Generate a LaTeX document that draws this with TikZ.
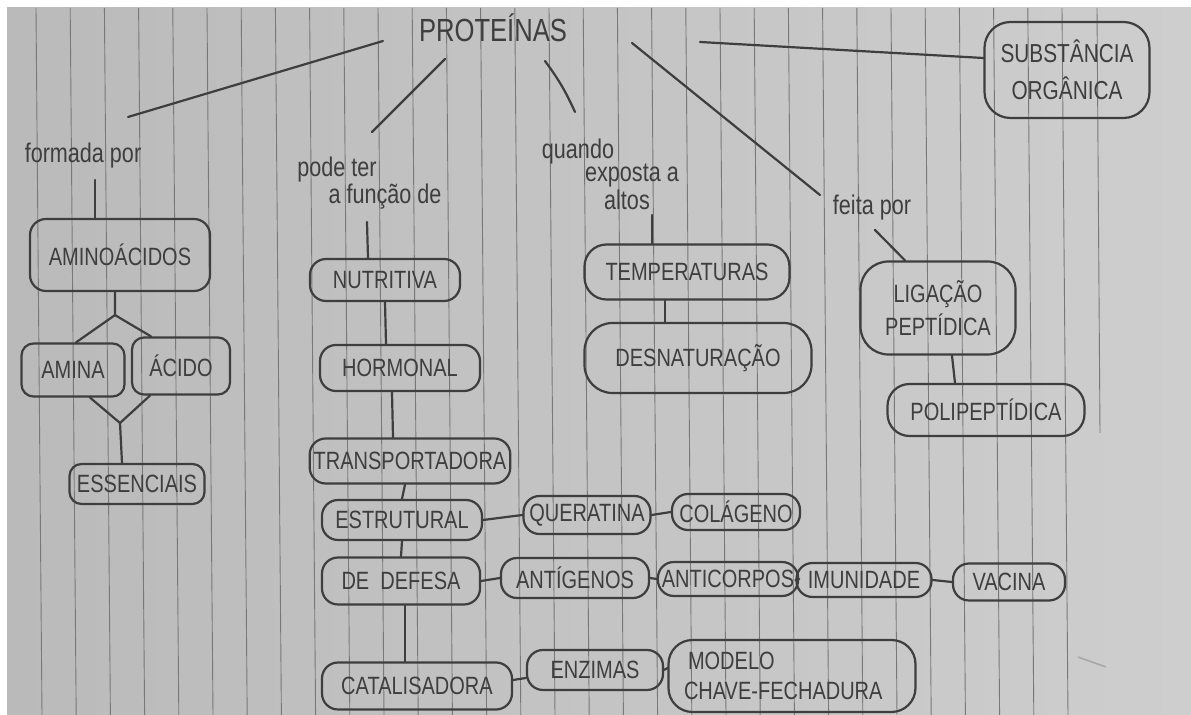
\documentclass[tikz,border=0pt]{standalone}
\usepackage{fontspec}
\setmainfont{Liberation Sans}
\newfontfamily\hand[FakeStretch=0.8]{Liberation Sans}
\usetikzlibrary{calc}

\definecolor{ink}{RGB}{62,62,62}
\definecolor{rule}{RGB}{120,120,120}
\definecolor{paperA}{RGB}{186,186,186}
\definecolor{paperB}{RGB}{206,206,206}

\begin{document}
\begin{tikzpicture}[x=0.5pt,y=-0.5pt,
  box/.style={draw=ink, line width=1.1pt, rounded corners=8pt, text=ink,
              font=\hand\fontsize{12.5}{15}\selectfont, inner sep=2pt, align=center},
  lbl/.style={text=ink, font=\hand\fontsize{13.5}{14}\selectfont, inner sep=1pt},
  link/.style={draw=ink, line width=1.1pt, line cap=round},
  ruling/.style={draw=rule, line width=0.45pt}]

% sheet of ruled paper
\useasboundingbox (0,0) rectangle (1191,715);
\fill[white] (0,0) rectangle (1191,715);
\shade[left color=paperA, right color=paperB] (7,8) rectangle (1191,715);
\foreach \i in {0,...,30}{
  \draw[ruling] ({36+34.2*\i},8) -- ({42+34.2*\i},715);
}
\draw[ruling] (1097,8) -- (1100,433);

% central concept
\node[lbl, font=\hand\fontsize{16}{17}\selectfont] (prot) at (493,28) {PROTEÍNAS};

% right: substance
\node[box, rounded corners=13pt, minimum width=82.5pt, minimum height=48pt,
      font=\hand\fontsize{13}{18.5}\selectfont] (subst) at (1067,70) {SUBSTÂNCIA\\ORGÂNICA};

% left branch: amino acids
\node[lbl] (formada) at (83,156) {formada por};
\node[box, minimum width=90pt, minimum height=36pt] (amino) at (120,255) {AMINOÁCIDOS};
\node[box, minimum width=51.5pt, minimum height=26.5pt, rounded corners=6pt] (amina) at (73,370) {AMINA};
\node[box, minimum width=49pt, minimum height=28.5pt, rounded corners=6pt] (acido) at (181,366) {ÁCIDO};
\node[box, minimum width=67.5pt, minimum height=20pt, rounded corners=6pt] (essen) at (137,484) {ESSENCIAIS};

% functions
\node[lbl] (pode1) at (337,170) {pode ter};
\node[lbl] (pode2) at (385,197) {a função de};
\node[box, minimum width=75pt, minimum height=21pt] (nutri) at (385,280) {NUTRITIVA};
\node[box, minimum width=80pt, minimum height=23pt] (hormo) at (400,368) {HORMONAL};
\node[box, minimum width=90pt, minimum height=22.5pt] (transp) at (410,461) {TRANSPORTADORA};
\node[box, minimum width=80pt, minimum height=20pt] (estru) at (402,520) {ESTRUTURAL};
\node[box, minimum width=63.5pt, minimum height=19pt] (quera) at (587,515) {QUERATINA};
\node[box, minimum width=64pt, minimum height=18pt] (colag) at (736,512) {COLÁGENO};
\node[box, minimum width=79pt, minimum height=23.5pt] (defesa) at (401,581) {DE \ DEFESA};
\node[box, minimum width=74pt, minimum height=20pt] (antig) at (575,578) {ANTÍGENOS};
\node[box, minimum width=68pt, minimum height=17pt] (antic) at (728,579) {ANTICORPOS};
\node[box, minimum width=67.5pt, minimum height=17pt] (imuni) at (864,580) {IMUNIDADE};
\node[box, minimum width=56pt, minimum height=18.5pt] (vacina) at (1009,582) {VACINA};
\node[box, minimum width=95pt, minimum height=23.5pt] (catal) at (417,686) {CATALISADORA};
\node[box, minimum width=68pt, minimum height=20pt] (enzim) at (595,670) {ENZIMAS};
\node[box, minimum width=123.5pt, minimum height=36pt, rounded corners=12pt,
      align=left, text width=108pt] (modelo) at (792,676) {\hspace{2pt}MODELO\\CHAVE-FECHADURA};

% temperature
\node[lbl] (quando1) at (578,152) {quando};
\node[lbl] (quando2) at (632,176) {exposta a};
\node[lbl] (quando3) at (627,200) {altos};
\node[box, minimum width=102.5pt, minimum height=27.5pt, rounded corners=11pt] (temp) at (687,272) {TEMPERATURAS};
\node[box, minimum width=113.5pt, minimum height=35pt, rounded corners=14pt] (desna) at (698,358) {DESNATURAÇÃO};

% peptide bond
\node[lbl] (feita) at (872,208) {feita por};
\node[box, minimum width=77.5pt, minimum height=46.5pt, rounded corners=14pt,
      font=\hand\fontsize{12.5}{16.5}\selectfont] (ligac) at (938,308) {LIGAÇÃO\\PEPTÍDICA};
\node[box, minimum width=98.5pt, minimum height=26pt, rounded corners=11pt] (polip) at (986,410) {POLIPEPTÍDICA};

% links from the central concept
\draw[link] ([shift={(-110,13)}]prot.center) -- ([shift={(45,-39)}]formada.center);
\draw[link] ([shift={(-48,31)}]prot.center) -- ([shift={(35,-38)}]pode1.center);
\draw[link] ([shift={(52,33)}]prot.center) to[bend left=6] ([shift={(-3,-40)}]quando1.center);
\draw[link] ([shift={(139,15)}]prot.center) -- ([shift={(-52,-13)}]feita.center);
\draw[link] ([shift={(207,14)}]prot.center) -- ([shift={(0,-12)}]subst.west);

% amino acids
\coordinate (fork1) at ([shift={(-5,23)}]amino.south);
\coordinate (fork2) at (120,423);
\draw[link] ([shift={(12,24)}]formada.center) -- ([shift={(-25,0)}]amino.north);
\draw[link] ([shift={(-5,0)}]amino.south) -- (fork1) -- ([shift={(3,0)}]amina.north);
\draw[link] (fork1) -- ([shift={(-30,0)}]acido.north);
\draw[link] ([shift={(17,0)}]amina.south) -- (fork2) -- ([shift={(-31,0)}]acido.south);
\draw[link] (fork2) -- ([shift={(-15,0)}]essen.north);

% chain of functions
\draw[link] ([shift={(-18,25)}]pode2.center) -- ([shift={(-17,0)}]nutri.north);
\draw[link] (nutri.south) -- ([shift={(-14,0)}]hormo.north);
\draw[link] ([shift={(-8,0)}]hormo.south) -- ([shift={(-17,0)}]transp.north);
\draw[link] ([shift={(-5,0)}]transp.south) -- (estru.north);
\draw[link] (estru.south) -- (defesa.north);
\draw[link] ([shift={(4,0)}]defesa.south) -- ([shift={(-12,0)}]catal.north);

% examples
\draw[link] (estru.east) -- (quera.west);
\draw[link] (quera.east) -- (colag.west);
\draw[link] (defesa.east) -- (antig.west);
\draw[link] (antig.east) -- (antic.west);
\draw[link] (antic.east) -- (imuni.west);
\draw[link] (imuni.east) -- (vacina.west);
\draw[link] ([shift={(0,-6)}]catal.east) -- ([shift={(0,8)}]enzim.west);
\draw[link] (enzim.east) -- ([shift={(0,-8)}]modelo.west);

% temperature chain
\draw[link] ([shift={(25,15)}]quando3.center) -- ([shift={(-35,0)}]temp.north);
\draw[link] ([shift={(-22,0)}]temp.south) -- ([shift={(-33,0)}]desna.north);

% peptide chain
\draw[link] ([shift={(3,22)}]feita.center) -- ([shift={(-33,0)}]ligac.north);
\draw[link] ([shift={(14,0)}]ligac.south) -- ([shift={(-31,0)}]polip.north);

% stray pen mark
\draw[draw=ink!45, line width=0.8pt] (1078,657) -- (1106,667);
\end{tikzpicture}
\end{document}
